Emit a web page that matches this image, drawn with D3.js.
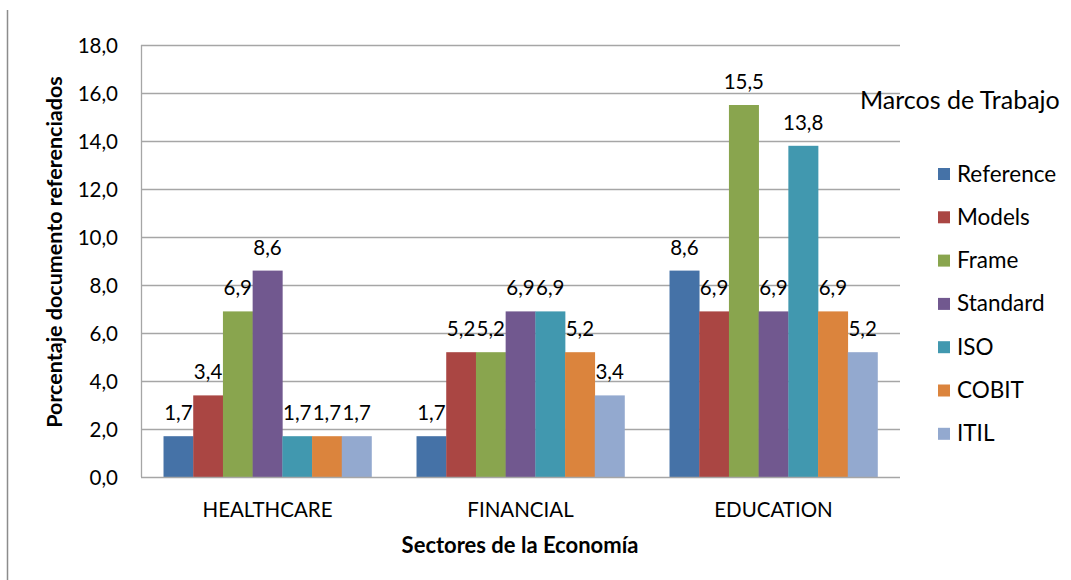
<!DOCTYPE html>
<html><head><meta charset="utf-8">
<script src="https://cdn.jsdelivr.net/npm/d3@7"></script>
<style>body{margin:0;background:#fff}svg{display:block}text{font-family:Lato,"Open Sans",sans-serif;fill:#000}</style>
</head><body><svg id="c" width="1071" height="580"></svg>
<script>
const categories = ["HEALTHCARE","FINANCIAL","EDUCATION"];
const seriesNames = ["Reference","Models","Frame","Standard","ISO","COBIT","ITIL"];
const seriesColors = ["#4572A7","#AA4643","#89A54E","#71588F","#4198AF","#DB843D","#93A9CF"];
const reference = [1.7,1.7,8.6];
const models = [3.4,5.2,6.9];
const frame = [6.9,5.2,15.5];
const standard = [8.6,6.9,6.9];
const iso = [1.7,6.9,13.8];
const cobit = [1.7,5.2,6.9];
const itil = [1.7,3.4,5.2];
const yTicks = [0,2,4,6,8,10,12,14,16,18];
const seriesValues = [reference,models,frame,standard,iso,cobit,itil];

const svg = d3.select("#c");
const L=141,R=900,T=45,B=477;
const fmt = v => d3.format(".1f")(v).replace(".",",");
const y = d3.scaleLinear().domain([0,18]).range([B,T]);
const x0 = d3.scaleBand().domain(categories).range([L,R]).paddingInner(0.178).paddingOuter(0.089);
const x1 = d3.scaleBand().domain(seriesNames).range([0,x0.bandwidth()]);

// left border line
svg.append("line").attr("x1",7.5).attr("x2",7.5).attr("y1",10).attr("y2",580).attr("stroke","#8c8c8c").attr("stroke-width",1.5);

// gridlines
svg.append("g").selectAll("line").data(yTicks.filter(d=>d>0)).join("line")
  .attr("x1",L).attr("x2",R).attr("y1",d=>Math.round(y(d))+0.5).attr("y2",d=>Math.round(y(d))+0.5)
  .attr("stroke","#a6a6a6").attr("stroke-width",1.3);
svg.append("line").attr("x1",L+0.5).attr("x2",L+0.5).attr("y1",T).attr("y2",B).attr("stroke","#a6a6a6").attr("stroke-width",1.3);

// y tick labels
svg.append("g").selectAll("text").data(yTicks).join("text")
  .attr("x",118).attr("y",d=>y(d)+7.5).attr("text-anchor","end")
  .style("font-size","20.5px").text(d=>fmt(d));

// bars
const groups = svg.append("g").selectAll("g").data(categories).join("g")
  .attr("transform",d=>`translate(${x0(d)},0)`);
groups.each(function(cat,ci){
  const g = d3.select(this);
  const data = seriesNames.map((s,si)=>({s,si,v:seriesValues[si][ci]}));
  g.selectAll("rect").data(data).join("rect")
    .attr("x",d=>x1(d.s)).attr("width",x1.bandwidth()+0.3)
    .attr("y",d=>y(d.v)).attr("height",d=>B-y(d.v))
    .attr("fill",d=>seriesColors[d.si]);
  g.selectAll("text").data(data).join("text")
    .attr("x",d=>x1(d.s)+x1.bandwidth()/2).attr("y",d=>y(d.v)-16)
    .attr("text-anchor","middle").style("font-size","20.5px").text(d=>fmt(d.v));
});

// baseline
svg.append("line").attr("x1",L).attr("x2",R).attr("y1",B+0.5).attr("y2",B+0.5).attr("stroke","#a6a6a6").attr("stroke-width",1.5);

// x labels
svg.append("g").selectAll("text").data(categories).join("text")
  .attr("x",d=>x0(d)+x0.bandwidth()/2).attr("y",517).attr("text-anchor","middle")
  .style("font-size","20.5px").text(d=>d);

// axis titles
svg.append("text").attr("x",520).attr("y",553).attr("text-anchor","middle")
  .style("font-size","22px").style("font-weight","bold").text("Sectores de la Economía");
svg.append("text").attr("transform","translate(62,252) rotate(-90)").attr("text-anchor","middle")
  .style("font-size","21.5px").style("font-weight","bold").text("Porcentaje documento referenciados");

// legend
svg.append("text").attr("x",860).attr("y",109).style("font-size","25px").text("Marcos de Trabajo");
const lg = svg.append("g").selectAll("g").data(seriesNames).join("g")
  .attr("transform",(d,i)=>`translate(938,${174+i*43.3})`);
lg.append("rect").attr("x",0).attr("y",-6).attr("width",12).attr("height",12).attr("fill",(d,i)=>seriesColors[i]);
lg.append("text").attr("x",19).attr("y",7.5).style("font-size","22.5px").text(d=>d);
</script></body></html>
